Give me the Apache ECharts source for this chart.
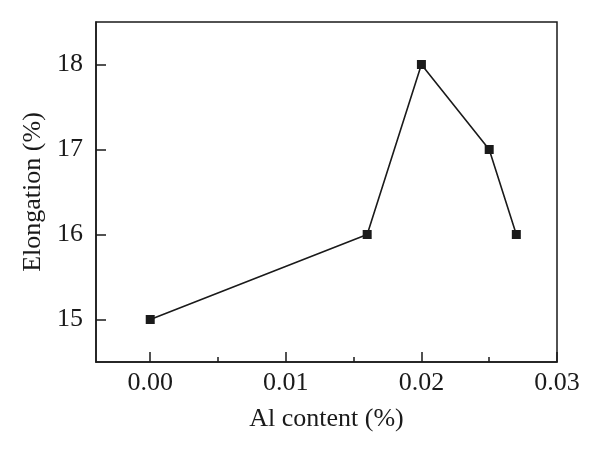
<!DOCTYPE html>
<html>
<head>
<meta charset="utf-8">
<script src="https://cdn.jsdelivr.net/npm/echarts@6/dist/echarts.min.js"></script>
<style>html,body{margin:0;padding:0;background:#fff}#c{width:600px;height:458px}</style>
</head>
<body>
<div id="c"></div>
<script>
var alContent = [0.000, 0.016, 0.020, 0.025, 0.027];
var elongation = [15, 16, 18, 17, 16];
var xTicks = [0.00, 0.01, 0.02, 0.03];
var xMinorTicks = [0.005, 0.015, 0.025];
var yTicks = [15, 16, 17, 18];

var font = 'Liberation Serif';
var ink = '#1a1a1a';
var chart = echarts.init(document.getElementById('c'));
chart.setOption({
  animation: false,
  backgroundColor: '#fff',
  grid: { left: 96, right: 43, top: 22, bottom: 96, show: true, borderColor: ink, borderWidth: 1.5, backgroundColor: 'transparent' },
  xAxis: [{
    type: 'value', min: -0.004, max: 0.03, position: 'bottom',
    splitLine: { show: false },
    axisLine: { show: true, onZero: false, lineStyle: { color: ink, width: 1.5 } },
    axisTick: { show: true, inside: true, length: 10, customValues: xTicks, lineStyle: { color: ink, width: 1.5 } },
    axisLabel: { customValues: xTicks, color: ink, fontFamily: font, fontSize: 26, margin: 8,
      formatter: function (v) { return v.toFixed(2); } },
    name: 'Al content (%)', nameLocation: 'middle', nameGap: 44,
    nameTextStyle: { color: ink, fontFamily: font, fontSize: 26 }
  }, {
    type: 'value', min: -0.004, max: 0.03, position: 'bottom', offset: 0,
    splitLine: { show: false },
    axisLine: { show: false },
    axisTick: { show: true, inside: true, length: 5, customValues: xMinorTicks, lineStyle: { color: ink, width: 1.5 } },
    axisLabel: { show: false }
  }],
  yAxis: {
    type: 'value', min: 14.5, max: 18.5,
    splitLine: { show: false },
    axisLine: { show: true, onZero: false, lineStyle: { color: ink, width: 1.5 } },
    axisTick: { show: true, inside: true, length: 10, customValues: yTicks, lineStyle: { color: ink, width: 1.5 } },
    axisLabel: { customValues: yTicks, color: ink, fontFamily: font, fontSize: 26, margin: 13 },
    name: 'Elongation (%)', nameLocation: 'middle', nameGap: 50,
    nameTextStyle: { color: ink, fontFamily: font, fontSize: 26 }
  },
  series: [{
    type: 'line',
    xAxisIndex: 0,
    data: alContent.map(function (x, i) { return [x, elongation[i]]; }),
    symbol: 'rect', symbolSize: 9, showSymbol: true,
    lineStyle: { color: ink, width: 1.6 },
    itemStyle: { color: ink }
  }]
});
</script>
</body>
</html>
